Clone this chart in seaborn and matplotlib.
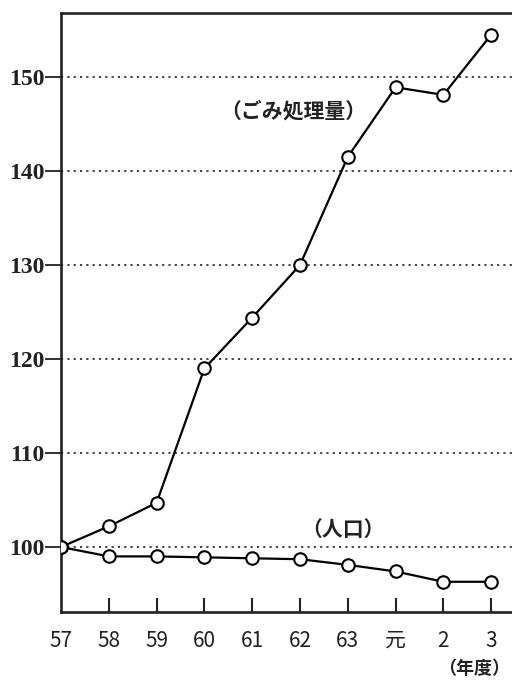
import matplotlib
matplotlib.use("Agg")
import matplotlib.pyplot as plt
import seaborn as sns
import pandas as pd

years = ["57", "58", "59", "60", "61", "62", "63", "元", "2", "3"]
garbage = [100, 102.2, 104.7, 119.0, 124.4, 130.0, 141.5, 148.9, 148.1, 154.5]
population = [100, 99.0, 99.0, 98.9, 98.8, 98.7, 98.1, 97.4, 96.3, 96.3]
yticks = [100, 110, 120, 130, 140, 150]

sns.set_theme(style="white")
plt.rcParams['font.family'] = ['Noto Sans CJK JP', 'DejaVu Sans']

df = pd.DataFrame({
    "pos": list(range(len(years))) * 2,
    "value": garbage + population,
    "series": ["ごみ処理量"] * len(years) + ["人口"] * len(years),
})

fig = plt.figure(figsize=(5.12, 6.8), dpi=100)
ax = fig.add_axes([61/512, 68/680, 452/512, 599/680])

for s in ["ごみ処理量", "人口"]:
    sub = df[df["series"] == s]
    sns.lineplot(data=sub, x="pos", y="value", ax=ax, color="black", lw=1.6,
                 marker="o", markersize=9, markerfacecolor="white",
                 markeredgecolor="black", markeredgewidth=1.5, legend=False,
                 zorder=3)

ax.set_xlim(0, 452/47.8)
ax.set_ylim(100 - 65/9.4, 100 + 534/9.4)

ax.set_yticks(yticks)
ax.set_yticklabels([str(v) for v in yticks], family=['Liberation Serif', 'DejaVu Serif'],
                   fontsize=17, fontweight='bold', color='#222222')
for v in yticks:
    ax.axhline(v, color='#333333', lw=1.3, ls=(0, (1.2, 2.3)), zorder=1)

ax.set_xticks(range(len(years)))
ax.set_xticklabels(years, fontsize=15, color='#222222')
ax.tick_params(axis='y', direction='out', length=11.5, width=1.3, pad=0.5, left=True, colors='#222222')
ax.tick_params(axis='x', direction='in', length=10, width=1.5, pad=13, bottom=True, colors='#222222')
ax.xaxis.get_major_ticks()[0].tick1line.set_visible(False)

for side in ['left', 'bottom', 'top']:
    ax.spines[side].set_visible(True)
    ax.spines[side].set_color('#222222')
    ax.spines[side].set_linewidth(1.9)
ax.spines['right'].set_visible(False)

ax.set_xlabel("")
ax.set_ylabel("")

ax.text(4.87, 146.4, "（ごみ処理量）", ha='center', va='center', fontsize=15,
        fontweight='bold', color='#222222')
ax.text(5.9, 101.9, "（人口）", ha='center', va='center', fontsize=15,
        fontweight='bold', color='#222222')
fig.text(474/512, 1 - 668/680, "（年度）", ha='center', va='center', fontsize=13,
         fontweight='bold', color='#222222')

fig.savefig("out.png", dpi=100, facecolor='white')
